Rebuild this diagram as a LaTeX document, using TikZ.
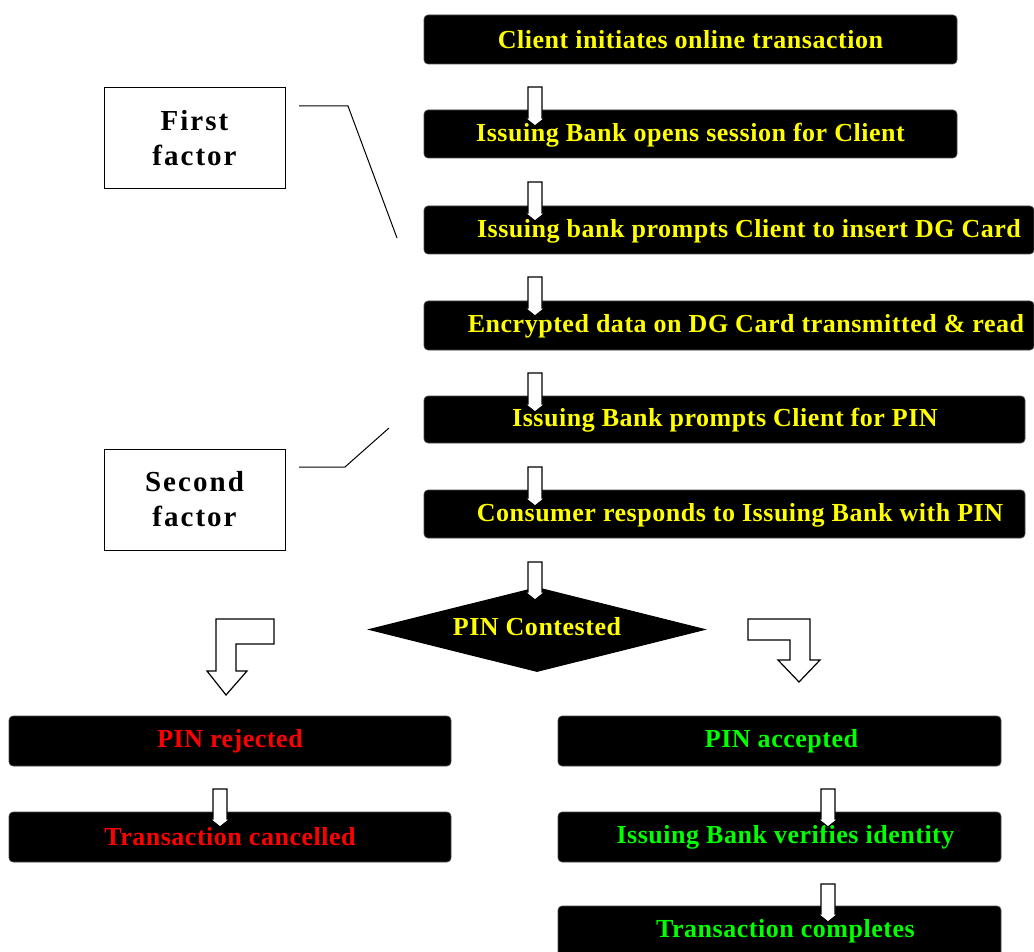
\documentclass[tikz,border=0pt]{standalone}
\usepackage{fontspec}
\setmainfont{Liberation Serif}
\newfontfamily\boxfont[LetterSpace=2]{Liberation Serif}
\newfontfamily\facfont[LetterSpace=7]{Liberation Serif}
\usetikzlibrary{shapes.geometric}
\definecolor{ylw}{RGB}{255,255,0}
\definecolor{rd}{RGB}{255,0,0}
\definecolor{grn}{RGB}{0,255,0}
\newcommand\blkdown[4]{%
  \draw[blkarrow] (#1-7,#2) -- (#1+7,#2) -- (#1+7,#3) -- (#1+10,#3) -- (#1,#4)
    -- (#1-10,#3) -- (#1-7,#3) -- cycle;}
\begin{document}
\begin{tikzpicture}[x=1pt,y=-1pt,
  box/.style={fill=black, draw=black!70, line width=0.6pt, rounded corners=4pt, inner sep=0pt},
  bfont/.style={font=\boxfont\bfseries\fontsize{26}{29}\selectfont},
  btext/.style={inner sep=0pt, bfont},
  facbox/.style={draw=black, line width=1pt, fill=white, minimum width=181pt, minimum height=101pt,
    align=center, inner sep=0pt, font=\facfont\bfseries\fontsize{29}{37}\selectfont},
  blkarrow/.style={draw=black, fill=white, line width=1.2pt, line join=miter},
  leader/.style={draw=black, line width=1pt}]
\useasboundingbox[fill=white] (0,0) rectangle (1034,952);

% main column boxes
\node[box, minimum width=533pt, minimum height=49pt] (b1) at (690.5,39.5) {};
\node[btext, text=ylw] (t1) at (690.5,40) {Client initiates online transaction};
\node[box, minimum width=533pt, minimum height=48pt] (b2) at (690.5,134) {};
\node[btext, text=ylw] (t2) at (690.5,135) {Issuing Bank opens session for Client};
\node[box, minimum width=610pt, minimum height=48pt] (b3) at (729,230) {};
\node[btext, text=ylw] (t3) at (749,231) {Issuing bank prompts Client to insert DG Card};
\node[box, minimum width=610pt, minimum height=49pt] (b4) at (729,325.5) {};
\node[btext, text=ylw] (t4) at (746,326) {Encrypted data on DG Card transmitted \& read};
\node[box, minimum width=601pt, minimum height=47pt] (b5) at (724.5,419.5) {};
\node[btext, text=ylw] (t5) at (725,420) {Issuing Bank prompts Client for PIN};
\node[box, minimum width=601pt, minimum height=48pt] (b6) at (724.5,514) {};
\node[btext, text=ylw] (t6) at (740,515) {Consumer responds to Issuing Bank with PIN};

% decision
\node[diamond, fill=black, inner sep=0pt, minimum width=340pt, minimum height=85pt] (d) at (537,629.5) {};
\node[btext, text=ylw] (td) at (537,627) {PIN Contested};

% branches
\node[box, bfont, minimum width=442pt, minimum height=50pt, text=rd] (rej) at (230,741) {PIN rejected};
\node[box, bfont, minimum width=442pt, minimum height=50pt, text=rd] (can) at (230,837) {Transaction cancelled};
\node[box, bfont, minimum width=443pt, minimum height=50pt, text=grn] (acc) at (779.5,741) {\hspace*{4pt}PIN accepted};
\node[box, bfont, minimum width=443pt, minimum height=50pt, text=grn] (ver) at (779.5,837) {\hspace*{12pt}Issuing Bank verifies identity};
\node[box, bfont, minimum width=443pt, minimum height=50pt, text=grn] (com) at (779.5,931) {\hspace*{12pt}Transaction completes};

% block arrows
\blkdown{535}{87}{118}{126}
\blkdown{535}{182}{213}{221}
\blkdown{535}{277}{308}{316}
\blkdown{535}{373}{404}{412}
\blkdown{535}{467}{498}{506}
\blkdown{535}{562}{592}{600}
\blkdown{220}{789}{819}{827}
\blkdown{828}{789}{819}{827}
\blkdown{828}{884}{914}{922}

% bent arrows
\draw[blkarrow] (216,619) -- (274,619) -- (274,644) -- (236,644) -- (236,671) -- (247,671)
  -- (226,695) -- (207,671) -- (216,671) -- cycle;
\draw[blkarrow] (748,619) -- (810,619) -- (810,660) -- (820,660) -- (799,682) -- (778,660)
  -- (790,660) -- (790,640) -- (748,640) -- cycle;

% factor labels
\node[facbox] (f1) at (194.5,138.5) {First\\[-2pt]factor};
\node[facbox] (f2) at (194.5,499.5) {Second\\[-2pt]factor};
\coordinate (f1a) at (299,106);
\coordinate (f1b) at (348,106);
\coordinate (f1c) at (397,238);
\coordinate (f2a) at (299,467);
\coordinate (f2b) at (345,467);
\coordinate (f2c) at (389,428);
\draw[leader] (f1a) -- (f1b) -- (f1c);
\draw[leader] (f2a) -- (f2b) -- (f2c);
\end{tikzpicture}
\end{document}
